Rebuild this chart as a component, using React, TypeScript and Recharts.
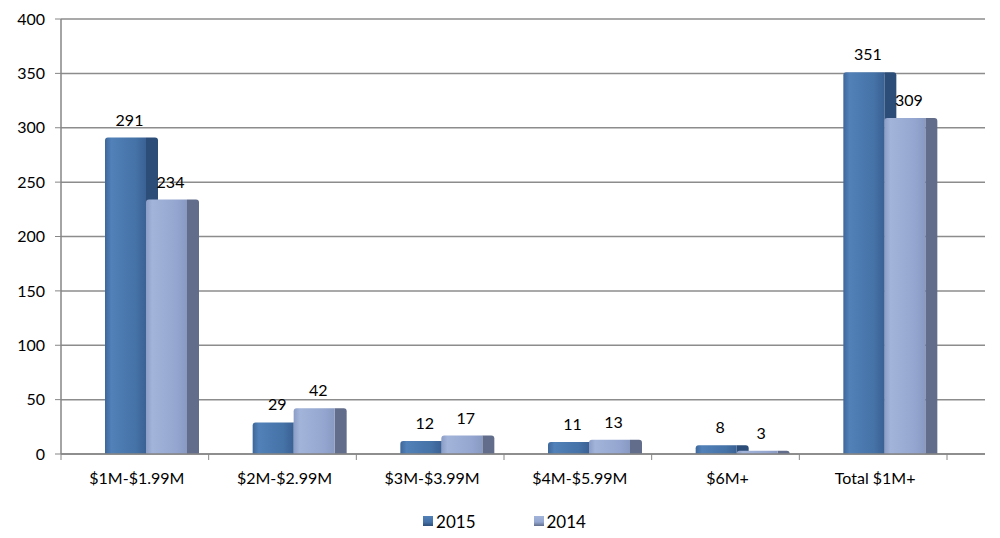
import React from 'react'
import { BarChart, Bar, XAxis, YAxis, CartesianGrid, Legend, LabelList } from 'recharts'

const categories = ['$1M-$1.99M', '$2M-$2.99M', '$3M-$3.99M', '$4M-$5.99M', '$6M+', 'Total $1M+']
const values2015 = [291, 29, 12, 11, 8, 351]
const values2014 = [234, 42, 17, 13, 3, 309]
const yTicks = [0, 50, 100, 150, 200, 250, 300, 350, 400]

const data = categories.map((name, i) => ({ name, y2015: values2015[i], y2014: values2014[i] }))

const FONT = 'Lato, "Open Sans", sans-serif'
const SHIFT = 11 // excel 3d depth pushes bars right
const SIDE = 12
const BAND = (947 - 61) / 6

const COLORS = {
  y2015: { front: '#4572a7', light: '#5181b8', side: '#2c4d78' },
  y2014: { front: '#94a6cf', light: '#a3b4da', side: '#616d8a' },
}

function makeShape(key: 'y2015' | 'y2014') {
  return (props: any) => {
    const { x, y, width, height } = props
    if (height == null || height <= 0) return null
    const fx = x + SHIFT
    const r = Math.min(3, height)
    const h = height
    const front = `M${fx},${y + h} L${fx},${y + r} Q${fx},${y} ${fx + r},${y} L${fx + width},${y} L${fx + width},${y + h} Z`
    const sx = fx + width
    const side = `M${sx},${y + h} L${sx},${y} L${sx + SIDE - r},${y} Q${sx + SIDE},${y} ${sx + SIDE},${y + r} L${sx + SIDE},${y + h} Z`
    return (
      <g>
        <path d={side} fill={COLORS[key].side} />
        <path d={front} fill={`url(#grad-${key})`} />
      </g>
    )
  }
}

function XTick(props: any) {
  const { x, y, payload, index } = props
  const left = x - BAND / 2
  return (
    <g>
      <line x1={left} y1={y - 8} x2={left} y2={y - 2} stroke="#868686" strokeWidth={1} />
      {index === categories.length - 1 && (
        <line x1={x + BAND / 2} y1={y - 8} x2={x + BAND / 2} y2={y - 2} stroke="#868686" strokeWidth={1} />
      )}
      <text x={x + 2} y={y + 22} textAnchor="middle" fontFamily={FONT} fontSize={16} fill="#000">
        {payload.value}
      </text>
    </g>
  )
}

function valueLabel(props: any) {
  const { x, y, width, value } = props
  return (
    <text
      x={x + SHIFT + width / 2 + 4}
      y={y - 12}
      textAnchor="middle"
      fontFamily={FONT}
      fontSize={16}
      fill="#000"
    >
      {value}
    </text>
  )
}

function LegendBox() {
  const items = [
    { label: '2015', color: COLORS.y2015 },
    { label: '2014', color: COLORS.y2014 },
  ]
  return (
    <div
      style={{
        height: 44,
        display: 'flex',
        justifyContent: 'center',
        alignItems: 'center',
        paddingTop: 10,
        boxSizing: 'border-box',
        gap: 58,
        fontFamily: FONT,
        fontSize: 17,
        marginLeft: 24,
      }}
    >
      {items.map((it) => (
        <div key={it.label} style={{ display: 'flex', alignItems: 'center' }}>
          <span
            style={{
              display: 'inline-block',
              width: 10,
              height: 10,
              marginRight: 3,
              background: `linear-gradient(180deg, ${it.color.light}, ${it.color.front} 60%, ${it.color.side})`,
            }}
          />
          <span>{it.label}</span>
        </div>
      ))}
    </div>
  )
}

export default function App() {
  return (
    <div style={{ position: 'absolute', left: 0, top: 0, width: 1000, height: 538, background: '#fff' }}>
      <BarChart
        width={1000}
        height={538}
        data={data}
        margin={{ top: 19, right: 15, bottom: 0, left: 0 }}
        barSize={41}
        barGap={0}
        barCategoryGap={0}
      >
        <defs>
          <linearGradient id="grad-y2015" x1="0" y1="0" x2="1" y2="0">
            <stop offset="0%" stopColor="#3e679a" />
            <stop offset="15%" stopColor={COLORS.y2015.light} />
            <stop offset="75%" stopColor={COLORS.y2015.front} />
            <stop offset="100%" stopColor="#3a6194" />
          </linearGradient>
          <linearGradient id="grad-y2014" x1="0" y1="0" x2="1" y2="0">
            <stop offset="0%" stopColor="#8b9dc6" />
            <stop offset="15%" stopColor={COLORS.y2014.light} />
            <stop offset="75%" stopColor={COLORS.y2014.front} />
            <stop offset="100%" stopColor="#8899c2" />
          </linearGradient>
        </defs>
        <CartesianGrid vertical={false} stroke="#8c8c8c" strokeWidth={1.5} />
        <XAxis
          dataKey="name"
          height={40}
          padding={{ left: 0, right: 38 }}
          axisLine={{ stroke: '#868686', strokeWidth: 1.5 }}
          tickLine={false}
          tick={<XTick />}
          interval={0}
        />
        <YAxis
          width={61}
          domain={[0, 400]}
          ticks={yTicks}
          axisLine={{ stroke: '#868686', strokeWidth: 1.5 }}
          tickLine={{ stroke: '#868686' }}
          tickSize={6}
          tickMargin={10}
          tick={{ fontFamily: FONT, fontSize: 16, fill: '#000' }}
          interval={0}
        />
        <Legend verticalAlign="bottom" height={44} content={<LegendBox />} />
        <Bar dataKey="y2015" name="2015" shape={makeShape('y2015')} isAnimationActive={false}>
          <LabelList dataKey="y2015" content={valueLabel} />
        </Bar>
        <Bar dataKey="y2014" name="2014" shape={makeShape('y2014')} isAnimationActive={false}>
          <LabelList dataKey="y2014" content={valueLabel} />
        </Bar>
      </BarChart>
    </div>
  )
}
